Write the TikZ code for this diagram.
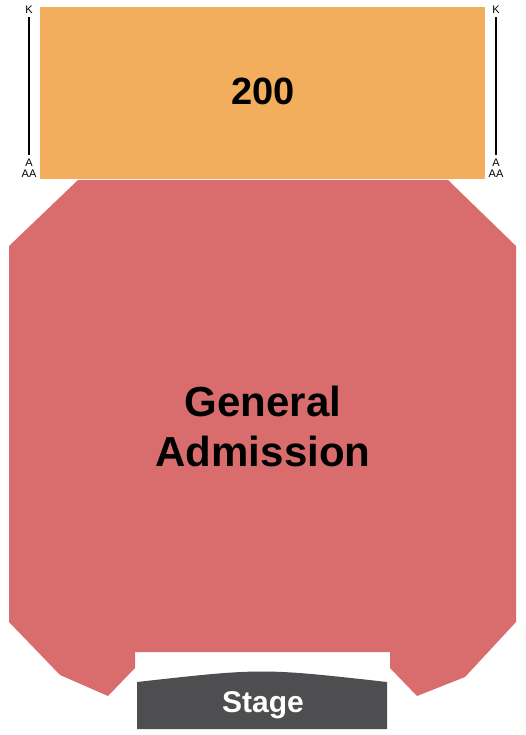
\documentclass[tikz,border=0pt]{standalone}
\usepackage{fontspec}
\setmainfont{Liberation Sans}
\definecolor{secorange}{HTML}{F2AE5C}
\definecolor{secred}{HTML}{D96D6D}
\definecolor{stagegray}{HTML}{4E4D50}
\begin{document}
\begin{tikzpicture}[x=1pt,y=-1pt,
  rowlbl/.style={inner sep=0pt,font=\fontsize{11}{11}\selectfont},
  biglbl/.style={inner sep=0pt,font=\fontsize{42}{50}\selectfont\bfseries,align=center}]
\useasboundingbox (0,0) rectangle (525,735);
% section 200
\fill[secorange] (40,7) rectangle (485,179);
\node[inner sep=0pt,anchor=base,font=\fontsize{38}{38}\selectfont\bfseries] (s200) at (263,105) {200};
% row labels
\node[rowlbl] (kl) at (29,9.5) {K};
\node[rowlbl] (al) at (29,163) {A};
\node[rowlbl] (aal) at (29,174) {AA};
\node[rowlbl] (kr) at (496,9.5) {K};
\node[rowlbl] (ar) at (496,163) {A};
\node[rowlbl] (aar) at (496,174) {AA};
\draw[line width=1.1pt] (kl.south) ++(0,4) coordinate (kl1) -- (29,155) coordinate (al1);
\draw[line width=1.1pt] (kr.south) ++(0,4) coordinate (kr1) -- (496,155) coordinate (ar1);
% general admission
\fill[secred] (78,180) -- (448,180) -- (516,246) -- (516,622) -- (465,677) -- (417,696)
  -- (390,668) -- (390,652) -- (135,652) -- (135,668) -- (108,696) -- (60,675)
  -- (9,622) -- (9,246) -- cycle;
\node[biglbl] (ga) at (263,426) {General\\Admission};
% stage
\fill[stagegray] (137,682) .. controls (262,668) .. (387,682) -- (387,729) -- (137,729) -- cycle;
\node[inner sep=0pt,anchor=base,text=white,font=\fontsize{30}{30}\selectfont\bfseries] (stage) at (263,712) {Stage};
\end{tikzpicture}
\end{document}
